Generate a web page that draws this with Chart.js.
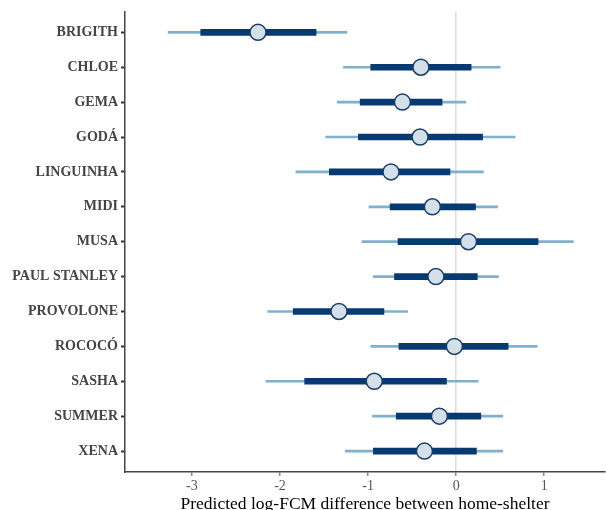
<!DOCTYPE html>
<html>
<head>
<meta charset="utf-8">
<script src="https://cdn.jsdelivr.net/npm/chart.js@4"></script>
<style>
  html, body { margin: 0; padding: 0; background: #fff; overflow: hidden; }
  #wrap { width: 606px; height: 510px; overflow: hidden; }
</style>
</head>
<body>
<div id="wrap"><canvas id="intervalChart" width="606" height="515"></canvas></div>
<script>
/* ============================================================
   DATA
   ============================================================ */
const dogNames = ["BRIGITH", "CHLOE", "GEMA", "GODÁ", "LINGUINHA", "MIDI", "MUSA",
    "PAUL STANLEY", "PROVOLONE", "ROCOCÓ", "SASHA", "SUMMER", "XENA"];
const estimates = [-2.25, -0.40, -0.61, -0.41, -0.74, -0.27, 0.14, -0.23, -1.33, -0.02, -0.93, -0.19, -0.36];
const innerLow  = [-2.90, -0.97, -1.09, -1.11, -1.44, -0.75, -0.66, -0.70, -1.85, -0.65, -1.72, -0.68, -0.94];
const innerHigh = [-1.59, 0.17, -0.16, 0.30, -0.07, 0.22, 0.93, 0.24, -0.82, 0.59, -0.11, 0.28, 0.23];
const outerLow  = [-3.27, -1.28, -1.35, -1.48, -1.82, -0.99, -1.07, -0.94, -2.14, -0.97, -2.16, -0.95, -1.26];
const outerHigh = [-1.24, 0.50, 0.11, 0.67, 0.31, 0.47, 1.33, 0.48, -0.55, 0.92, 0.25, 0.53, 0.53];
const xTicks = [-3, -2, -1, 0, 1];

const navy = "#063a70";
const lightBlue = "#7fb0d0";
const serif = "'Liberation Serif', 'DejaVu Serif', serif";

// rows are placed at 1..13 on a linear axis (top to bottom)
const outerData = dogNames.map((n, i) => ({ y: i + 1, x: [outerLow[i], outerHigh[i]] }));
const innerData = dogNames.map((n, i) => ({ y: i + 1, x: [innerLow[i], innerHigh[i]] }));
const pointData = dogNames.map((n, i) => ({ y: i + 1, x: estimates[i] }));

/* ============================================================
   CHART
   ============================================================ */
new Chart(document.getElementById("intervalChart"), {
    type: "bar",
    data: {
        datasets: [
            {
                label: "outer",
                data: outerData,
                backgroundColor: lightBlue,
                barThickness: 2,
                grouped: false,
                order: 3
            },
            {
                label: "inner",
                data: innerData,
                backgroundColor: navy,
                barThickness: 6,
                grouped: false,
                order: 2
            },
            {
                type: "scatter",
                label: "estimate",
                data: pointData,
                backgroundColor: "#d3e0ea",
                borderColor: "#1c3d68",
                borderWidth: 1.5,
                pointRadius: 8,
                order: 1
            }
        ]
    },
    options: {
        responsive: false,
        animation: false,
        indexAxis: "y",
        // no extra room for the big points, plot runs to the right edge
        layout: { autoPadding: false, padding: { top: 11, right: 1, left: 0, bottom: 0 } },
        plugins: {
            legend: { display: false },
            tooltip: { enabled: false }
        },
        scales: {
            x: {
                type: "linear",
                min: -3.76,
                max: 1.69,
                afterBuildTicks: s => { s.ticks = xTicks.map(v => ({ value: v })); },
                afterFit: s => { s.height = 43; },
                border: { color: "#444", width: 1.5 },
                grid: {
                    color: ctx => (ctx.tick && ctx.tick.value === 0) ? "#dcdcdc" : "rgba(0,0,0,0)",
                    lineWidth: 1.5,
                    tickColor: "#888",
                    tickLength: 4
                },
                ticks: {
                    color: "#555",
                    padding: 2,
                    font: { family: serif, size: 14 }
                },
                title: {
                    display: true,
                    text: "Predicted log-FCM difference between home-shelter",
                    color: "#000",
                    padding: { top: 0, bottom: 0 },
                    font: { family: serif, size: 17.5 }
                }
            },
            y: {
                type: "linear",
                reverse: true,
                offset: false,
                min: 0.4,
                max: 13.6,
                afterBuildTicks: s => { s.ticks = dogNames.map((n, i) => ({ value: i + 1 })); },
                afterFit: s => { s.width = 125; },
                border: { color: "#444", width: 1.5 },
                grid: {
                    offset: false,
                    drawOnChartArea: false,
                    tickColor: "#333",
                    tickWidth: 2,
                    tickLength: 4
                },
                ticks: {
                    color: "#444",
                    padding: 3,
                    font: { family: serif, size: 14, weight: "bold" },
                    callback: v => dogNames[Math.round(v) - 1] || ""
                }
            }
        }
    }
});
</script>
</body>
</html>
